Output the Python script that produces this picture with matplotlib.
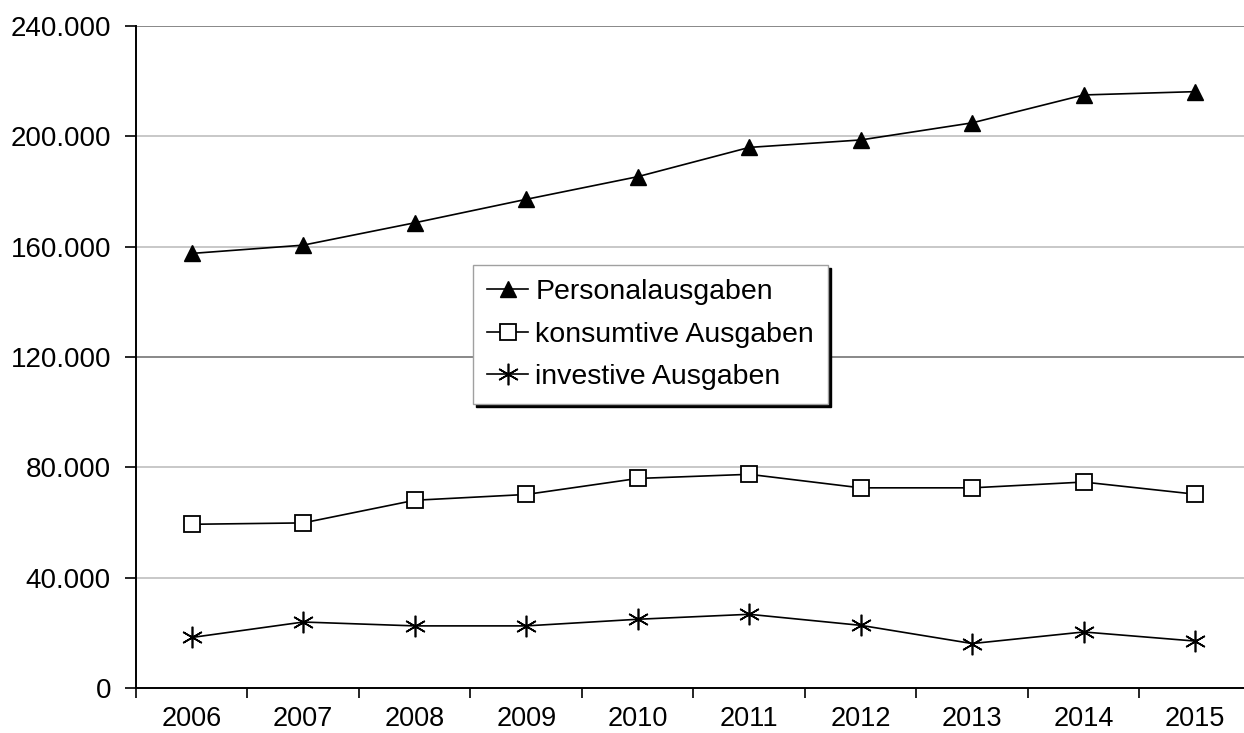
"""Ausgabenentwicklung 2006-2015: Personal-, konsumtive und investive Ausgaben."""
import matplotlib
matplotlib.use("Agg")
import matplotlib.pyplot as plt
from matplotlib.ticker import FuncFormatter


# Data (in Euro)
years = ["2006", "2007", "2008", "2009", "2010", "2011", "2012", "2013", "2014", "2015"]
personal = [157500, 160500, 168600, 177100, 185300, 195900, 198600, 204800, 214900, 216100]
konsumtiv = [59400, 59900, 68100, 70200, 76000, 77500, 72600, 72600, 74700, 70300]
investiv = [18400, 24000, 22600, 22600, 25000, 26800, 22800, 16200, 20400, 17100]

y_ticks = [0, 40000, 80000, 120000, 160000, 200000, 240000]


def german_thousands(v, _pos):
    # 240000 -> "240.000"
    return f"{v:,.0f}".replace(",", ".")


def main():
    plt.rcParams["font.family"] = ["Liberation Sans", "DejaVu Sans"]

    fig = plt.figure(figsize=(12.44, 7.33), dpi=100)
    ax = fig.add_axes([0.1093, 0.061, 0.8963, 0.904])

    x = list(range(len(years)))

    ax.plot(x, personal, color="black", lw=1.2, marker="^", ms=12,
            mfc="black", mec="black", label="Personalausgaben", zorder=3)
    ax.plot(x, konsumtiv, color="black", lw=1.2, marker="s", ms=11,
            mfc="white", mec="black", mew=1.3, label="konsumtive Ausgaben", zorder=3)
    # six-armed asterisk, one arm pointing straight up
    ax.plot(x, investiv, color="black", lw=1.2, marker=(6, 2, 0), ms=15.5,
            mec="black", mew=1.2, label="investive Ausgaben", zorder=3)

    # Gridlines: the 120.000 and 240.000 lines are darker in the original
    for v in y_ticks[1:]:
        c = "#7f7f7f" if v in (120000, 240000) else "#c4c4c4"
        ax.axhline(v, color=c, lw=1.3, zorder=1)

    ax.set_xlim(-0.5, len(years) - 0.5)
    ax.set_ylim(0, 240000)

    ax.set_yticks(y_ticks)
    ax.yaxis.set_major_formatter(FuncFormatter(german_thousands))

    # Category axis: tick marks between years, labels in the middle
    ax.set_xticks([i - 0.5 for i in range(len(years))])
    ax.set_xticklabels([])
    ax.set_xticks(x, minor=True)
    ax.set_xticklabels(years, minor=True)
    ax.tick_params(axis="x", which="minor", length=0, pad=13, labelsize=19.5)
    ax.tick_params(axis="x", which="major", length=7, width=1.2, direction="out")
    ax.tick_params(axis="y", length=8, width=1.2, pad=10, labelsize=20, direction="out")

    for side in ("top", "right"):
        ax.spines[side].set_visible(False)
    for side in ("left", "bottom"):
        ax.spines[side].set_linewidth(1.4)
        ax.spines[side].set_color("black")

    leg = ax.legend(loc="upper left", bbox_to_anchor=(0.302, 0.639), borderaxespad=0,
                    fontsize=20.5, frameon=True, fancybox=False,
                    shadow={"ox": 2.2, "oy": -2.2, "color": "black", "alpha": 1.0},
                    handlelength=1.45, handletextpad=0.25, labelspacing=0.58,
                    borderpad=0.5)
    leg.get_frame().set_edgecolor("#a0a0a0")
    leg.get_frame().set_linewidth(1.0)
    leg.set_zorder(5)

    fig.savefig("out.png", dpi=100)


if __name__ == "__main__":
    main()
